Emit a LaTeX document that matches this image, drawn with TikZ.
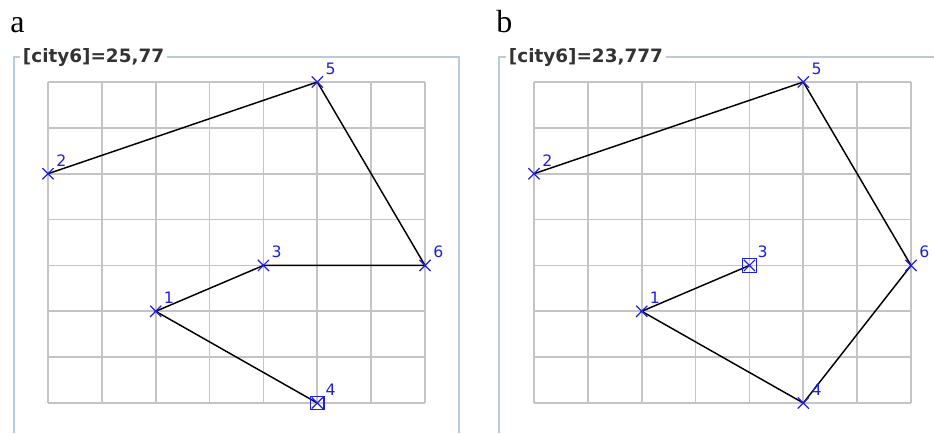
\documentclass[tikz,border=0pt]{standalone}
\usepackage{fontspec}
\usetikzlibrary{shapes.misc}
\newfontfamily\tourfont{DejaVu Sans}
\newfontfamily\panelfont{Liberation Serif}
\definecolor{cityBlue}{HTML}{1F1FE0}
\definecolor{gridGray}{HTML}{C4C4C4}
\definecolor{frameBlue}{HTML}{B9CBDD}
\definecolor{titleDark}{HTML}{333333}

\begin{document}
\begin{tikzpicture}[x=0.75pt, y=-0.75pt,
    gridline/.style={gridGray, line width=1.3pt},
    frameline/.style={frameBlue, line width=1.1pt},
    tour/.style={black, line width=1.1pt},
    city/.style={cross out, draw=cityBlue, line width=0.9pt, minimum size=7.5pt,
                 inner sep=0pt},
    startbox/.style={rectangle, draw=cityBlue, line width=0.9pt, minimum size=10pt,
                     inner sep=0pt},
    citylabel/.style={font=\tourfont\fontsize{11.8}{13}\selectfont, text=cityBlue,
                      anchor=south west, inner sep=0pt, xshift=6pt, yshift=5.5pt},
    title/.style={font=\tourfont\bfseries\fontsize{13.8}{16}\selectfont,
                  text=titleDark, fill=white, anchor=west, inner sep=2pt},
    panel/.style={font=\panelfont\fontsize{24}{28}\selectfont, anchor=base west,
                  inner sep=0pt},
  ]
    \useasboundingbox (0,0) rectangle (934,433);

    % ─── Frames and titles ───
    \draw[frameline] (14,433) -- (14,57) -- (459,57) -- (459,433);
    \draw[frameline] (499,433) -- (499,57) -- (934,57);
    \node[title] (titleA) at (20,57) {[city6]=25,77};
    \node[title] (titleB) at (506,57) {[city6]=23,777};
    \node[panel] (panelA) at (10,32) {a};
    \node[panel] (panelB) at (496,32) {b};

    % ─── Grids 7x7 and city positions ───
    \foreach \ox/\p in {0/a, 486/b}{
      \foreach \k in {0,...,7}{
        \draw[gridline] (48+\ox+\k*53.86, 82) -- (48+\ox+\k*53.86, 403);
        \draw[gridline] (48+\ox, 82+\k*45.86) -- (425+\ox, 82+\k*45.86);
      }
      \foreach \n/\c/\r in {1/2/5, 2/0/2, 3/4/4, 4/5/7, 5/5/0, 6/7/4}{
        \coordinate (\p\n) at (48+\ox+\c*53.86, 82+\r*45.86);
      }
    }

    % ─── Tours ───
    \draw[tour] (a2) -- (a5) -- (a6) -- (a3) -- (a1) -- (a4);
    \draw[tour] (b2) -- (b5) -- (b6) -- (b4) -- (b1) -- (b3);

    % ─── Markers ───
    \foreach \p in {a, b}{
      \foreach \n in {1,...,6}{
        \node[city] (\p\n-x) at (\p\n) {};
        \node[citylabel] (\p\n-lbl) at (\p\n) {\n};
      }
    }
    \node[startbox] (a4-box) at (a4) {};
    \node[startbox] (b3-box) at (b3) {};
  \end{tikzpicture}
\end{document}
